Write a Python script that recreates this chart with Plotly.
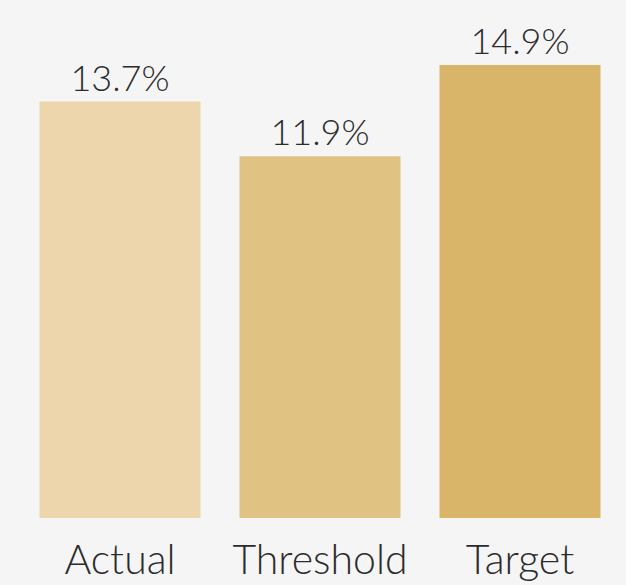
import plotly.graph_objects as go

categories = ["Actual", "Threshold", "Target"]
values = [13.7, 11.9, 14.9]
labels = ["13.7%", "11.9%", "14.9%"]
colors = ["#EDD6AC", "#E0C283", "#D9B56A"]

fig = go.Figure(go.Bar(
    x=categories, y=values, text=labels, textposition="outside",
    marker=dict(color=colors, line=dict(width=0)),
    textfont=dict(size=36, color="#2b2b2b", family="Lato", weight=300),
    cliponaxis=False, width=0.805,
))
fig.update_layout(
    width=626, height=585,
    margin=dict(l=20, r=6, t=0, b=67),
    paper_bgcolor="#F5F5F5", plot_bgcolor="#F5F5F5",
    showlegend=False,
    font=dict(family="Lato", color="#2b2b2b"),
)
fig.update_xaxes(showgrid=False, zeroline=False, showline=False, ticks="",
                 tickfont=dict(size=41, family="Lato", color="#2b2b2b", weight=300),
                 ticklabelstandoff=14,
                 range=[-0.5, 2.5])
fig.update_yaxes(visible=False, range=[0, 17.04])
fig.write_html("out.html", config={"displayModeBar": False},
               post_script="document.body.style.margin='0';document.body.style.background='#F5F5F5';")
